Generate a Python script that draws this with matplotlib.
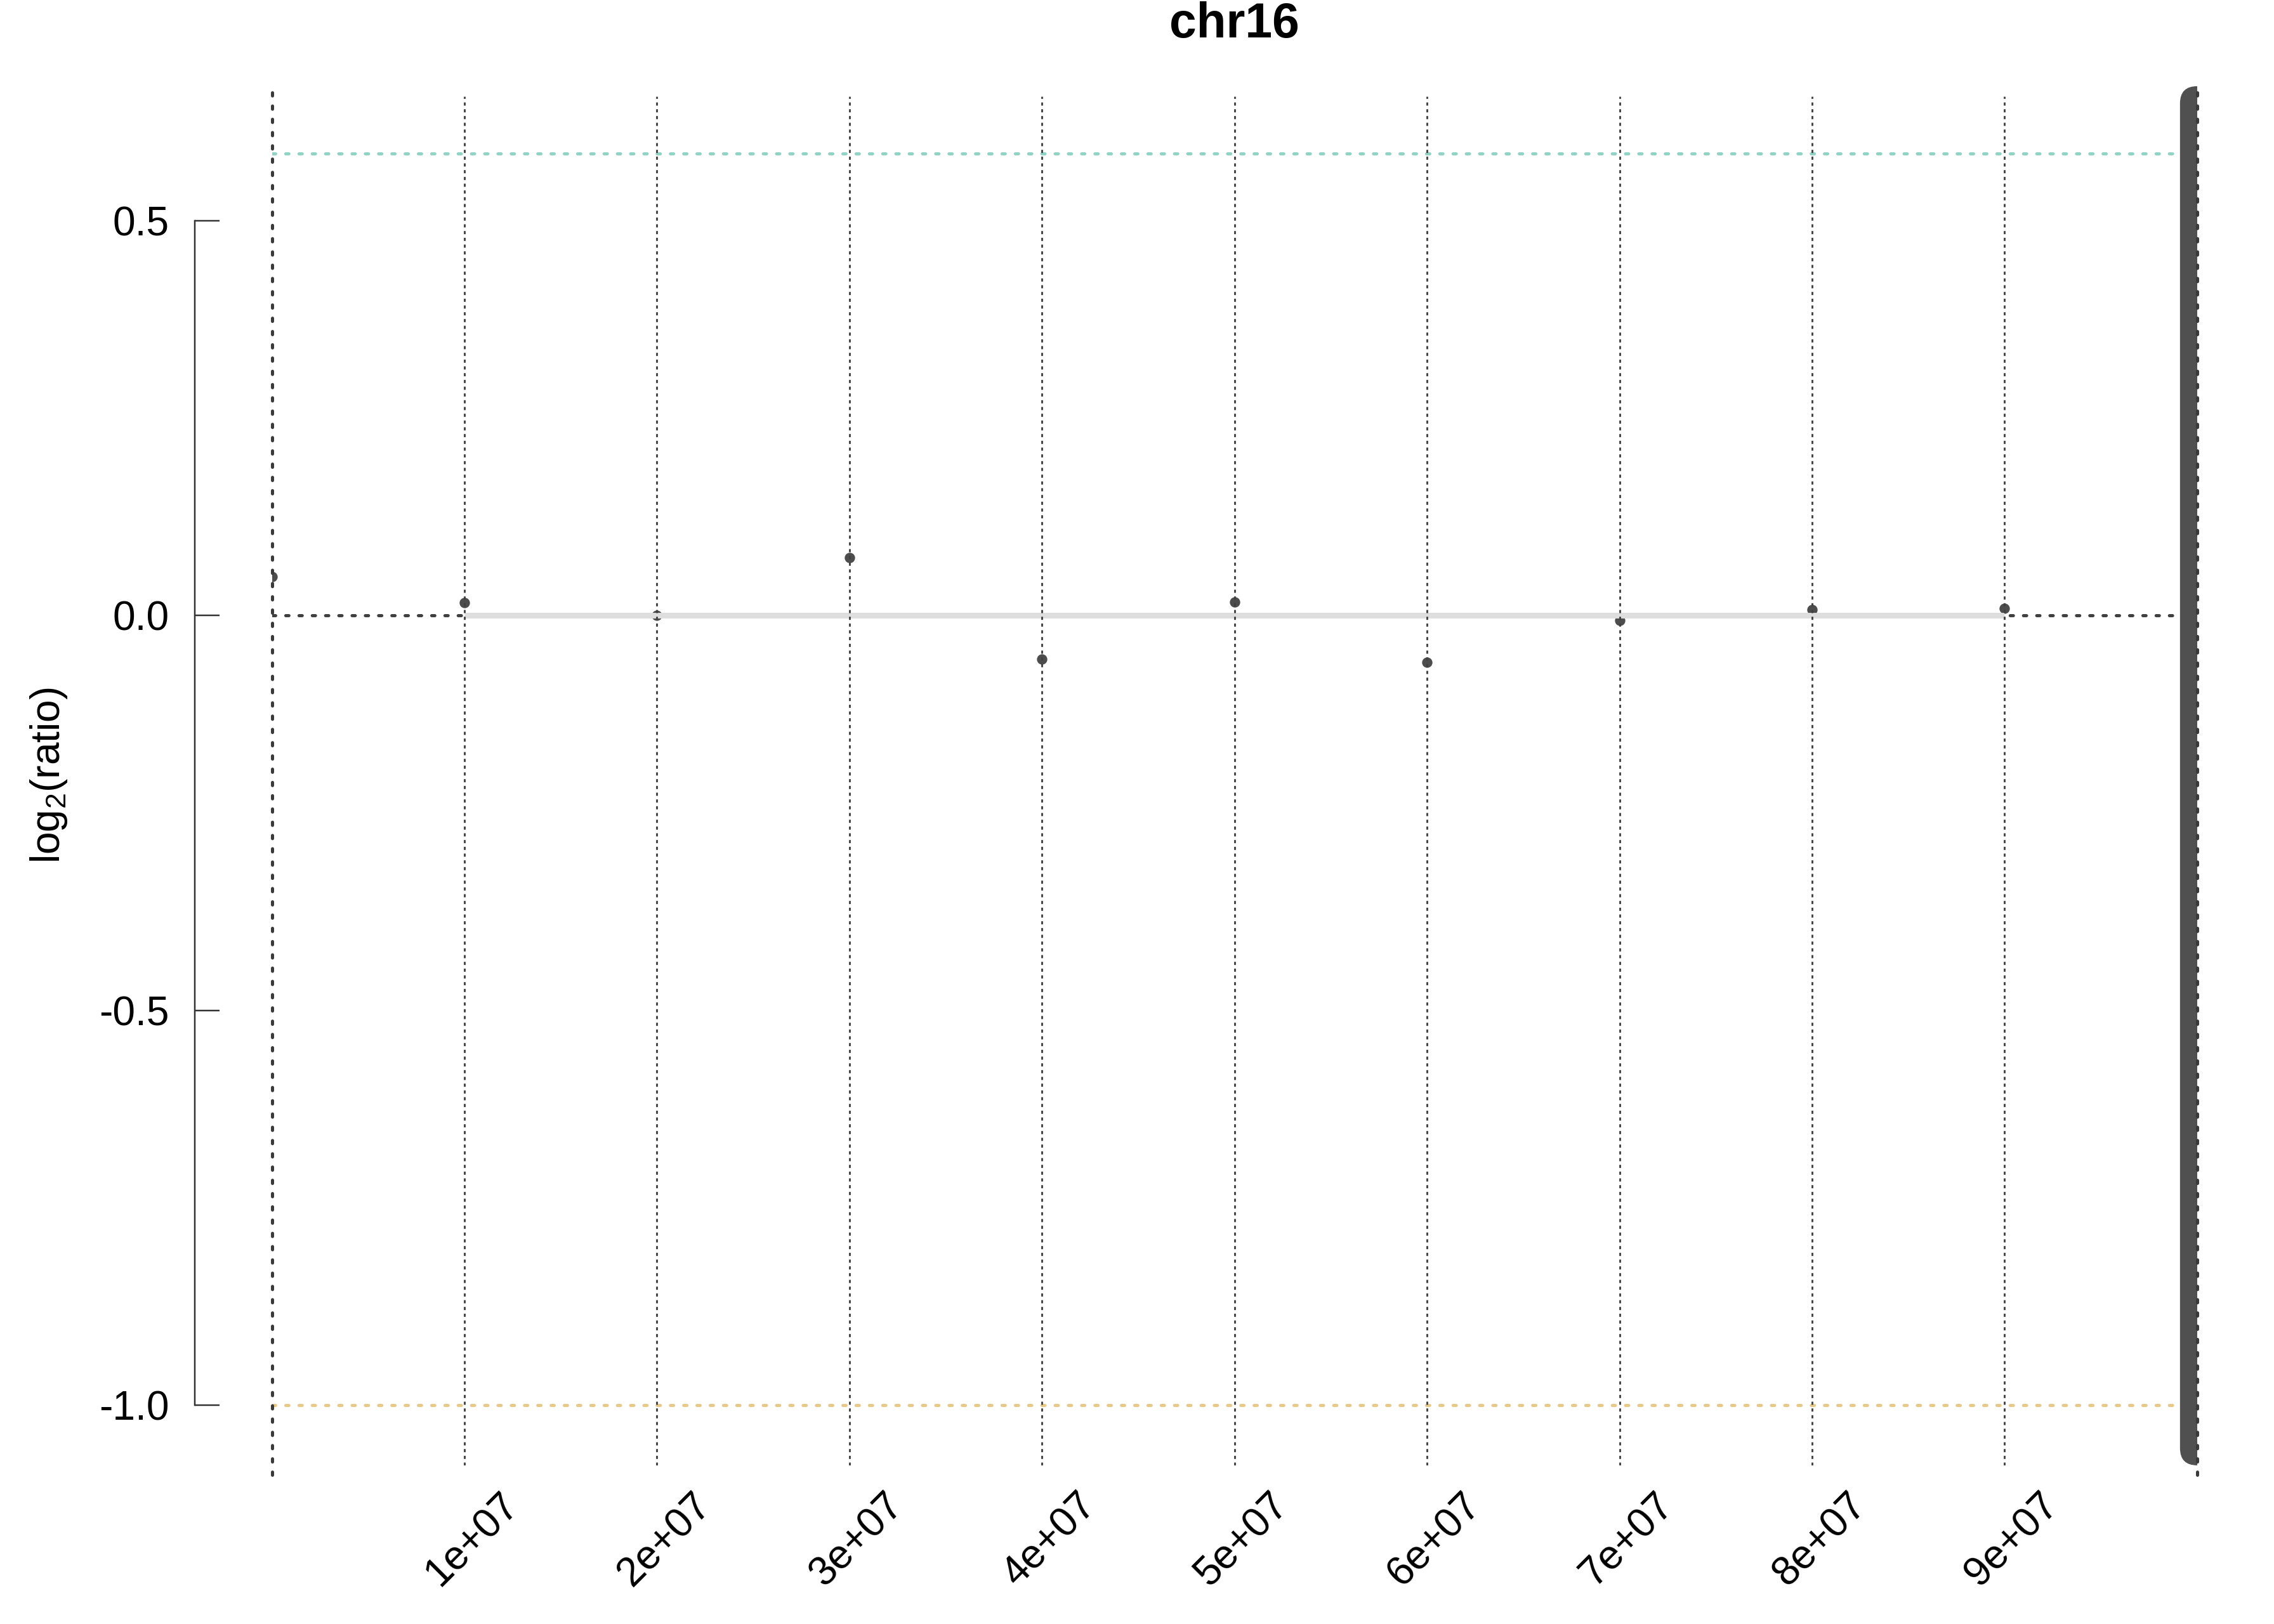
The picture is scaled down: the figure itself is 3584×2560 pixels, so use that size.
import matplotlib
matplotlib.use("Agg")
import matplotlib.pyplot as plt
from matplotlib.patches import FancyBboxPatch, Rectangle
from matplotlib.transforms import ScaledTranslation

plt.rcParams["font.family"] = ["Liberation Sans", "DejaVu Sans"]
plt.rcParams["mathtext.fontset"] = "custom"
plt.rcParams["mathtext.rm"] = "Liberation Sans"
plt.rcParams["mathtext.it"] = "Liberation Sans:italic"
plt.rcParams["axes.unicode_minus"] = False

# ---- data ----
chrom_name = "chr16"
chrom_end = 1.0e8
bin_pos = [0, 1e7, 2e7, 3e7, 4e7, 5e7, 6e7, 7e7, 8e7, 9e7]
log2_ratio = [0.049, 0.016, 0.0, 0.073, -0.055, 0.017, -0.059, -0.006, 0.007, 0.009]
seg_start = [1e7]
seg_end = [9e7]
seg_mean = [0.0]
gain_line = 0.585   # log2(1.5)
loss_line = -1.0    # log2(0.5)
xtick_pos = [1e7, 2e7, 3e7, 4e7, 5e7, 6e7, 7e7, 8e7, 9e7]
xtick_labels = ["1e+07", "2e+07", "3e+07", "4e+07", "5e+07",
                "6e+07", "7e+07", "8e+07", "9e+07"]
ytick_pos = [-1.0, -0.5, 0.0, 0.5]
ytick_labels = ["-1.0", "-0.5", "0.0", "0.5"]

DARK = "#404040"
DOT = "#4D4D4D"
THICK_DOTS = (0, (1.0, 3.2))
THIN_DASH = (0, (1.75, 2.0))

fig = plt.figure(figsize=(14, 10), dpi=256)
ax = fig.add_axes([0.1196, 0.0977, 0.8466, 0.8429])
ax.set_xlim(0, chrom_end)
ax.set_ylim(-1.076, 0.657)

# reference lines
ax.plot([0, chrom_end], [0, 0], color=DARK, lw=1.4, ls=THICK_DOTS,
        dash_capstyle="round", zorder=1)
ax.plot([0, chrom_end], [gain_line, gain_line], color="#93D3C5", lw=1.4,
        ls=THICK_DOTS, dash_capstyle="round", zorder=1)
ax.plot([0, chrom_end], [loss_line, loss_line], color="#E8C98C", lw=1.4,
        ls=THICK_DOTS, dash_capstyle="round", zorder=1)

# bins
ax.plot(bin_pos, log2_ratio, "o", ms=4.6, color=DOT, mec="none", zorder=2)

# segments
for s, e, m in zip(seg_start, seg_end, seg_mean):
    ax.plot([s, e], [m, m], color="#DEDEDE", lw=2.5,
            solid_capstyle="butt", zorder=3)

# position grid
for x in xtick_pos:
    ax.axvline(x, color=DARK, lw=0.8, ls=THIN_DASH,
               dash_capstyle="butt", zorder=4)

# chromosome end cap (half capsule, clipped at the chromosome end)
fig.canvas.draw()
px_x = ax.transData.transform((1, 0))[0] - ax.transData.transform((0, 0))[0]
px_y = ax.transData.transform((0, 1))[1] - ax.transData.transform((0, 0))[1]
cap_px = 27
half_w = cap_px / px_x
ideo_bottom, ideo_top = -1.076, 0.670
cap = FancyBboxPatch((chrom_end - half_w, ideo_bottom), 2 * half_w,
                     ideo_top - ideo_bottom,
                     boxstyle=f"round,pad=0,rounding_size={half_w}",
                     mutation_aspect=px_x / px_y,
                     fc="#505050", ec="none", zorder=5)
ax.add_patch(cap)
cap.set_clip_path(Rectangle((0, -5), chrom_end, 10, transform=ax.transData))

# chromosome boundaries
for x in [0, chrom_end]:
    ax.plot([x, x], [-1.088, 0.667], color="#3A3A3A", lw=1.4, ls=THICK_DOTS,
            dash_capstyle="round", clip_on=False, zorder=6)

# axes styling
for side in ["top", "right", "bottom"]:
    ax.spines[side].set_visible(False)
ax.spines["left"].set_position(("outward", 34.3))
ax.spines["left"].set_bounds(-1.0, 0.5)
ax.spines["left"].set_linewidth(0.7)
ax.spines["left"].set_color("#333333")

ax.set_yticks(ytick_pos)
ax.set_yticklabels(ytick_labels)
ax.tick_params(axis="y", direction="in", length=11, width=0.7,
               color="#333333", pad=11.2, labelsize=18)

ax.set_xticks(xtick_pos)
ax.set_xticklabels(xtick_labels, rotation=45, ha="center", va="top")
ax.tick_params(axis="x", length=0, pad=9, labelsize=18)
shift = ScaledTranslation(12 / 256, 0, fig.dpi_scale_trans)
for lab in ax.get_xticklabels():
    lab.set_transform(lab.get_transform() + shift)

fig.text(0.5429, 1 - 39 / 2560, chrom_name, ha="center", va="center",
         fontsize=21.6, fontweight="bold")
fig.text(77 / 3584, 1 - 1222 / 2560, r"log$_{\mathrm{2}}$(ratio)",
         rotation=90, ha="center", va="center", fontsize=18)

fig.savefig("out.png", dpi=256)
